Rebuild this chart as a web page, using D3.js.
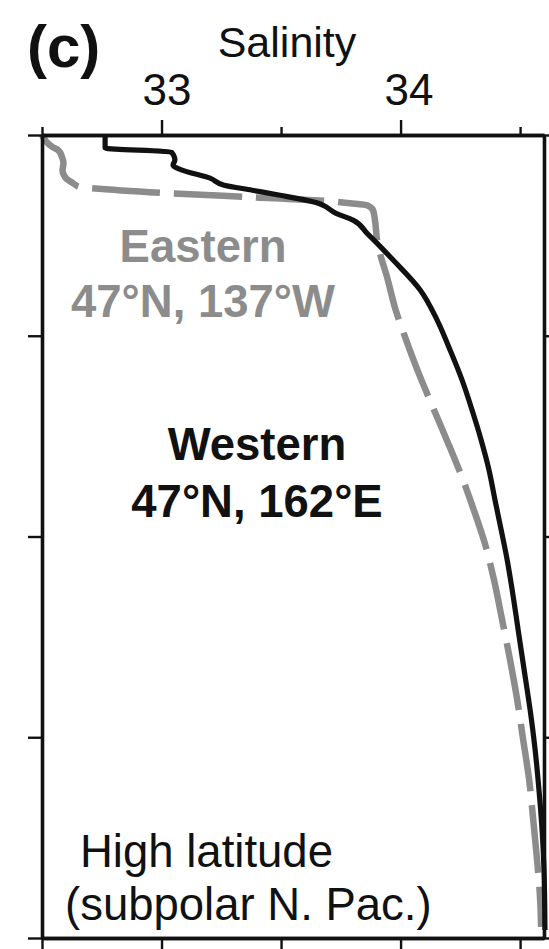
<!DOCTYPE html>
<html>
<head>
<meta charset="utf-8">
<script src="https://cdn.jsdelivr.net/npm/d3@7"></script>
<style>
  html, body { margin: 0; padding: 0; background: #fff; }
  svg { display: block; }
  text { font-family: "Liberation Sans", Arial, Helvetica, sans-serif; }
</style>
</head>
<body>
<svg id="chart" width="549" height="949"></svg>
<script>
// Salinity profiles, subpolar North Pacific (depth in m, salinity in psu)
const westernSalinity = [32.764, 32.764, 33.042, 33.056, 33.048, 33.086, 33.203, 33.262, 33.379, 33.496, 33.642, 33.730, 33.803, 33.860, 33.902, 33.977, 34.082, 34.153, 34.207, 34.257, 34.299, 34.337, 34.370, 34.395, 34.421, 34.446, 34.467, 34.492, 34.517, 34.542, 34.563, 34.579, 34.592, 34.600, 34.604];
const westernDepth    = [0, 6.5, 8.5, 12.5, 15, 17.5, 21.5, 25, 27.5, 30, 33.5, 39, 42.5, 49, 54, 63.3, 77.2, 92.2, 107.1, 122, 137, 151.9, 166.9, 181.8, 196.8, 211.7, 226.7, 246.6, 266.5, 286.4, 306.4, 326.3, 346.2, 366.1, 396];

const easternSalinity = [32.500, 32.544, 32.567, 32.584, 32.590, 32.586, 32.600, 32.630, 32.659, 32.705, 33.027, 33.379, 33.642, 33.789, 33.860, 33.885, 33.893, 33.902, 33.914, 33.944, 33.979, 34.023, 34.082, 34.140, 34.199, 34.257, 34.307, 34.354, 34.391, 34.425, 34.458, 34.488, 34.513, 34.538, 34.555, 34.571, 34.584, 34.588];
const easternDepth    = [0, 6, 7.5, 11, 14, 17.5, 21.5, 24, 26, 26.5, 29, 31, 32.5, 34, 35, 37.5, 42.5, 52.5, 59, 71, 87, 102, 120.5, 137, 153.5, 170.5, 187, 204, 221.7, 241.6, 261.5, 281.4, 301.4, 321.3, 341.2, 361.1, 381.1, 394.5];

const majorSalinityTicks = [33, 34];
const minorSalinityTicks = [32.5, 33.5, 34.5];
const depthTicks = [0, 100, 200, 300, 400];

const panelLabel = "(c)";
const axisTitle = "Salinity";
const easternLabel = ["Eastern", "47°N, 137°W"];
const westernLabel = ["Western", "47°N, 162°E"];
const regionLabel = ["High latitude", "(subpolar N. Pac.)"];

const svg = d3.select("#chart");
const plotLeft = 42, plotRight = 544, plotTop = 135, plotBottom = 938;

const x = d3.scaleLinear().domain([32.5, 34.6]).range([plotLeft, plotRight]);
const y = d3.scaleLinear().domain([0, 400]).range([plotTop, plotBottom]);

const black = "#111111";
const grey = "#8c8c8c";

// profile lines
const line = d3.line().x(d => x(d[0])).y(d => y(d[1])).curve(d3.curveMonotoneY);
const eastern = easternSalinity.map((s, i) => [s, easternDepth[i]]);
const western = westernSalinity.map((s, i) => [s, westernDepth[i]]);

svg.append("path")
  .datum(eastern)
  .attr("d", line)
  .attr("fill", "none")
  .attr("stroke", grey)
  .attr("stroke-width", 6.5)
  .attr("stroke-dasharray", "68,14")
  .attr("stroke-linejoin", "round");

svg.append("path")
  .datum(western)
  .attr("d", line)
  .attr("fill", "none")
  .attr("stroke", black)
  .attr("stroke-width", 5.2)
  .attr("stroke-linejoin", "miter");

// axes (frame + ticks)
function styleAxis(g, showText) {
  g.select(".domain").attr("stroke", black).attr("stroke-width", 3.6);
  g.selectAll(".tick line").attr("stroke", black).attr("stroke-width", 2.4);
  if (!showText) g.selectAll(".tick text").remove();
  else g.selectAll(".tick text").attr("fill", black).attr("font-size", 44)
        .attr("font-family", "Liberation Sans, Arial, sans-serif")
        .attr("dx", d => d === 34 ? 8 : 5);
}

svg.append("g").attr("transform", `translate(0,${plotTop})`)
  .call(d3.axisTop(x).tickValues(minorSalinityTicks).tickSize(8).tickSizeOuter(0))
  .call(g => styleAxis(g, false));
svg.append("g").attr("transform", `translate(0,${plotTop})`)
  .call(d3.axisTop(x).tickValues(majorSalinityTicks).tickSize(15).tickSizeOuter(0).tickPadding(15).tickFormat(d3.format("d")))
  .call(g => styleAxis(g, true));

svg.append("g").attr("transform", `translate(0,${plotBottom})`)
  .call(d3.axisBottom(x).tickValues(minorSalinityTicks).tickSize(12).tickSizeOuter(0))
  .call(g => styleAxis(g, false));
svg.append("g").attr("transform", `translate(0,${plotBottom})`)
  .call(d3.axisBottom(x).tickValues(majorSalinityTicks).tickSize(15).tickSizeOuter(0))
  .call(g => styleAxis(g, false));

svg.append("g").attr("transform", `translate(${plotLeft},0)`)
  .call(d3.axisLeft(y).tickValues(depthTicks).tickSize(14).tickSizeOuter(0))
  .call(g => styleAxis(g, false));
svg.append("g").attr("transform", `translate(${plotRight},0)`)
  .call(d3.axisRight(y).tickValues(depthTicks).tickSize(14).tickSizeOuter(0))
  .call(g => styleAxis(g, false));

// titles and annotations
svg.append("text").attr("x", 27).attr("y", 67)
  .attr("font-size", 60).attr("font-weight", "bold").attr("fill", black)
  .text(panelLabel);

svg.append("text").attr("x", 287).attr("y", 57)
  .attr("text-anchor", "middle").attr("font-size", 43).attr("fill", black)
  .text(axisTitle);

svg.append("g").selectAll("text").data(easternLabel).join("text")
  .attr("x", 203).attr("y", (d, i) => 262 + i * 55)
  .attr("text-anchor", "middle").attr("font-size", 45.5).attr("font-weight", "bold")
  .attr("fill", grey).text(d => d);

svg.append("g").selectAll("text").data(westernLabel).join("text")
  .attr("x", 257).attr("y", (d, i) => 460 + i * 57)
  .attr("text-anchor", "middle").attr("font-size", 45.5).attr("font-weight", "bold")
  .attr("fill", black).text(d => d);

svg.append("g").selectAll("text").data(regionLabel).join("text")
  .attr("x", (d, i) => i === 0 ? 80 : 65).attr("y", (d, i) => 867 + i * 53)
  .attr("font-size", 45.5).attr("fill", black).text(d => d);
</script>
</body>
</html>
